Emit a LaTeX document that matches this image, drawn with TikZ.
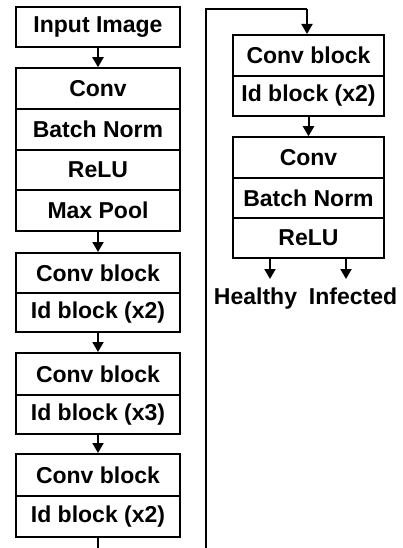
\documentclass[tikz,border=0pt]{standalone}
\usepackage{fontspec}
\setmainfont{Liberation Sans}
\usetikzlibrary{arrows.meta}
\tikzset{
  cell/.style={draw, line width=2pt, minimum width=164pt, minimum height=40.5pt,
    inner sep=0pt, font=\fontsize{23}{27}\selectfont\bfseries},
  rcell/.style={cell, minimum width=151pt},
  flow/.style={line width=2pt, -{Triangle[length=10pt,width=11pt]}},
  wire/.style={line width=2pt},
  outlbl/.style={anchor=base, inner sep=0pt, font=\fontsize{23}{27}\selectfont\bfseries}
}
\begin{document}
\begin{tikzpicture}[x=1pt,y=-1pt]
\useasboundingbox (0,0) rectangle (403,548);

% left column
\node[cell, minimum height=40pt] (inp) at (98,27) {Input Image};
\node[cell] (c1) at (98,88.5) {Conv};
\node[cell] (bn1) at (98,129.5) {Batch Norm};
\node[cell] (r1) at (98,170) {ReLU};
\node[cell] (mp) at (98,210.5) {Max Pool};

\node[cell, minimum height=40pt] (cb1) at (98,273) {Conv block};
\node[cell, minimum height=39pt] (id1) at (98,312.5) {Id block (x2)};

\node[cell, minimum height=42pt] (cb2) at (98,374) {Conv block};
\node[cell, minimum height=39pt] (id2) at (98,414.5) {Id block (x3)};

\node[cell, minimum height=42pt] (cb3) at (98,475) {Conv block};
\node[cell, minimum height=41pt] (id3) at (98,516.5) {Id block (x2)};

% right column
\node[rcell, minimum height=41pt] (cb4) at (308.5,55.5) {Conv block};
\node[rcell, minimum height=40pt] (id4) at (308.5,96) {Id block (x2)};
\node[rcell] (c2) at (308.5,157.5) {Conv};
\node[rcell] (bn2) at (308.5,198) {Batch Norm};
\node[rcell] (r2) at (308.5,238) {ReLU};

% outputs
\node[outlbl] (healthy) at (255.5,304) {Healthy};
\node[outlbl] (infected) at (353,304) {Infected};
\coordinate (hTip) at (270,279);
\coordinate (iTip) at (346,279);

% connectors
\draw[flow] (inp) -- (c1);
\draw[flow] (mp) -- (cb1);
\draw[flow] (id1) -- (cb2);
\draw[flow] (id2) -- (cb3);

\coordinate (lowL) at (98,548.5);
\coordinate (lowR) at (206,548.5);
\coordinate (topL) at (206,9);
\coordinate (topR) at (307,9);
\draw[wire] (id3.south) -- (lowL) -- (lowR) -- (topL) -- (topR);
\draw[flow] (topR) -- (topR |- cb4.north);

\draw[flow] (id4) -- (c2);
\draw[flow] (r2.south -| hTip) -- (hTip);
\draw[flow] (r2.south -| iTip) -- (iTip);
\end{tikzpicture}
\end{document}
